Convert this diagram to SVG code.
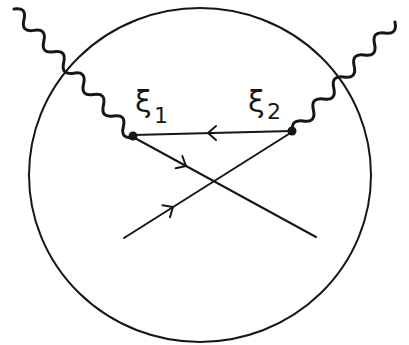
<svg xmlns="http://www.w3.org/2000/svg" width="409" height="345" viewBox="0 0 409 345">
<style>
.ln{fill:none;stroke:#161616;stroke-width:2;stroke-linecap:round;stroke-linejoin:round}
.wv{fill:none;stroke:#161616;stroke-width:3;stroke-linecap:round;stroke-linejoin:round}
.lbl{font-family:"DejaVu Sans","Liberation Sans",sans-serif;fill:#161616}
</style>
<defs>
<path id="chev" class="ln" d="M-8,-7 L0,0 L-8,7"/>
</defs>
<rect width="409" height="345" fill="#ffffff"/>
<g id="circle">
<ellipse class="ln" cx="200" cy="175" rx="171" ry="167"/>
</g>
<g id="photon1">
<path class="wv" transform="translate(14,9) rotate(47.1)" d="M0,0 q7.3,-11 14.6,0 t14.6,0 t14.6,0 t14.6,0 t14.6,0 t14.6,0 t14.6,0 t14.6,0 t14.6,0 t14.6,0 t14.6,0 t14.6,0"/>
</g>
<g id="photon2">
<path class="wv" transform="translate(293,132) rotate(-47.2)" d="M0,0 q7.5,-11 15,0 t15,0 t15,0 t15,0 t15,0 t15,0 t15,0 t15,0 t15,0 t15,0"/>
</g>
<g id="xi1">
<circle cx="133" cy="136" r="4.5" fill="#161616"/>
<text class="lbl" x="135" y="112" font-size="30">ξ</text>
<text class="lbl" x="154" y="123" font-size="22">1</text>
</g>
<g id="xi2">
<circle cx="292" cy="131" r="4.5" fill="#161616"/>
<text class="lbl" x="248" y="112" font-size="30">ξ</text>
<text class="lbl" x="267" y="119" font-size="22">2</text>
</g>
<g id="connectors">
<line class="ln" x1="133" y1="135" x2="292" y2="131"/>
<line class="ln" x1="133" y1="137" x2="316" y2="237"/>
<line class="ln" x1="124" y1="238" x2="292" y2="132"/>
<use href="#chev" transform="translate(208,133) rotate(180)"/>
<use href="#chev" transform="translate(186,166) rotate(28.6)"/>
<use href="#chev" transform="translate(173,207) rotate(-32.1)"/>
</g>
</svg>
